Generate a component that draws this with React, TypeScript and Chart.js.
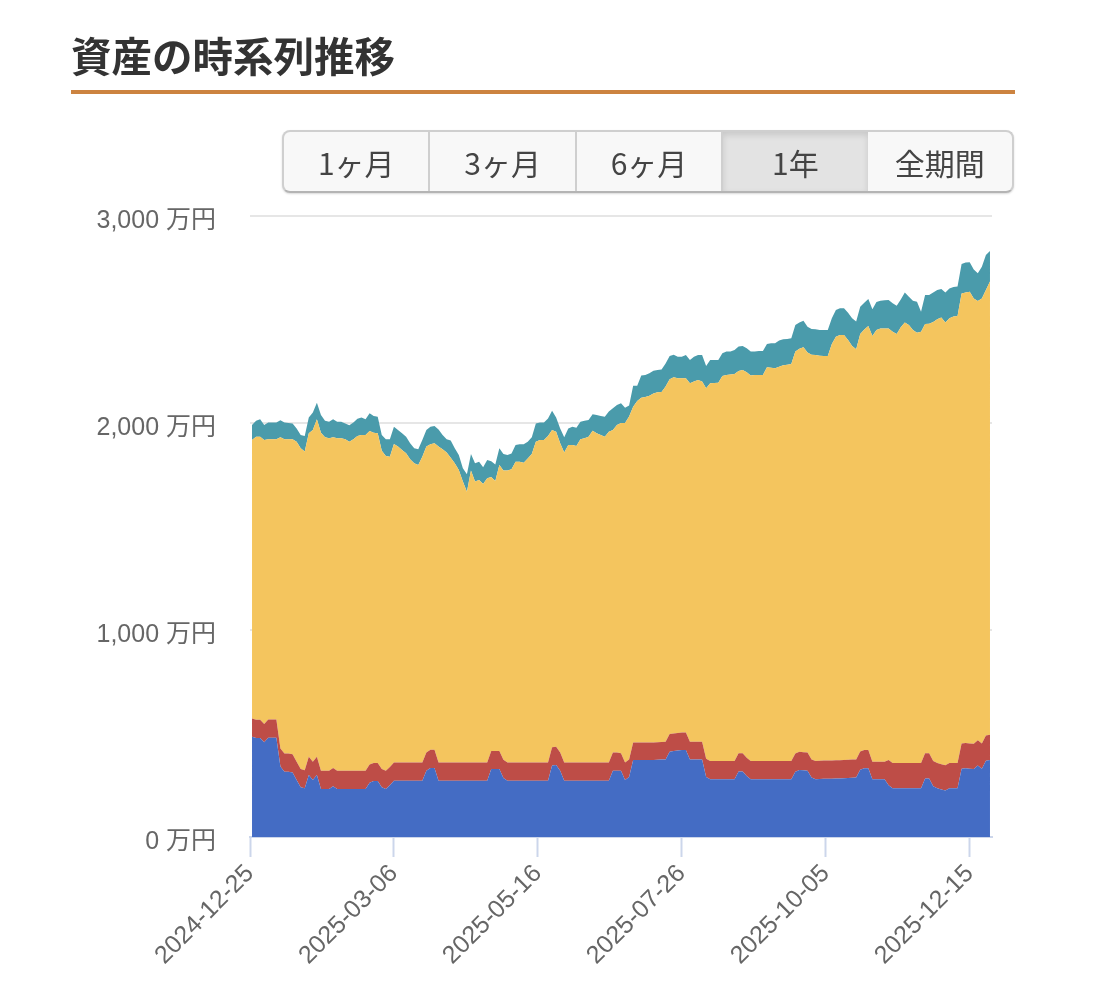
import { useEffect, useRef } from "react";
import { Chart, registerables } from "chart.js";

Chart.register(...registerables);

const rangeLabels = ["1ヶ月", "3ヶ月", "6ヶ月", "1年", "全期間"];
const activeRange = "1年";

// x axis: days since 2024-12-25, ticks every 71 days
const tickDays = [0, 71, 142, 213, 284, 355];
const tickLabels = [
  "2024-12-25",
  "2025-03-06",
  "2025-05-16",
  "2025-07-26",
  "2025-10-05",
  "2025-12-15",
];
const yTicks = [0, 1000, 2000, 3000];

// values in 万円, every second day
const blue = [
  484, 478, 478, 458, 480, 480, 480, 340, 315, 315,
  312, 275, 240, 235, 300, 275, 300, 232, 232, 232,
  245, 232, 232, 232, 232, 232, 232, 232, 232, 262,
  270, 270, 240, 232, 250, 272, 272, 272, 272, 272,
  272, 272, 272, 320, 333, 333, 272, 272, 272, 272,
  272, 272, 272, 272, 272, 272, 272, 272, 272, 328,
  328, 328, 285, 272, 272, 272, 272, 272, 272, 272,
  272, 272, 272, 272, 345, 348, 320, 272, 272, 272,
  272, 272, 272, 272, 272, 272, 272, 272, 272, 320,
  320, 320, 275, 290, 372, 372, 372, 372, 372, 372,
  373, 374, 375, 412, 415, 418, 420, 420, 375, 375,
  375, 375, 290, 279, 279, 279, 279, 279, 279, 279,
  317, 317, 295, 279, 279, 279, 279, 279, 279, 279,
  279, 279, 279, 279, 315, 324, 322, 320, 287, 279,
  280, 281, 281, 282, 283, 283, 284, 285, 286, 287,
  325, 332, 332, 279, 279, 279, 279, 250, 235, 235,
  235, 235, 235, 235, 235, 235, 283, 283, 245, 235,
  230, 225, 235, 235, 235, 330, 332, 330, 328, 345,
  330, 368, 372,
];
const red = [
  89, 89, 88, 88, 88, 88, 88, 88, 88, 88,
  88, 88, 88, 88, 88, 88, 88, 88, 88, 88,
  88, 88, 88, 88, 88, 88, 88, 88, 88, 88,
  88, 88, 88, 88, 88, 88, 88, 88, 88, 88,
  88, 88, 88, 88, 88, 88, 88, 88, 88, 88,
  88, 88, 88, 88, 88, 88, 88, 88, 88, 88,
  88, 88, 88, 88, 88, 88, 88, 88, 88, 88,
  88, 88, 88, 88, 88, 88, 88, 88, 88, 88,
  88, 88, 88, 88, 88, 88, 88, 88, 88, 88,
  88, 85, 85, 85, 85, 85, 85, 85, 85, 85,
  85, 85, 85, 85, 85, 85, 85, 85, 85, 85,
  85, 85, 88, 88, 88, 88, 88, 88, 88, 88,
  88, 88, 88, 88, 88, 88, 88, 88, 88, 88,
  88, 88, 88, 88, 88, 88, 88, 88, 88, 88,
  88, 88, 88, 88, 88, 88, 88, 88, 88, 88,
  88, 88, 88, 84, 84, 84, 84, 122, 122, 122,
  122, 122, 122, 122, 122, 122, 122, 122, 122, 122,
  122, 122, 122, 122, 122, 122, 122, 122, 122, 122,
  122, 122, 122,
];
const yellow = [
  1345, 1367, 1368, 1372, 1353, 1353, 1353, 1503, 1518, 1518,
  1521, 1547, 1550, 1539, 1562, 1603, 1630, 1633, 1611, 1606,
  1598, 1606, 1606, 1601, 1590, 1601, 1617, 1622, 1622, 1611,
  1595, 1592, 1538, 1521, 1499, 1539, 1526, 1510, 1494, 1465,
  1445, 1437, 1477, 1478, 1476, 1481, 1526, 1513, 1497, 1472,
  1445, 1413, 1357, 1308, 1410, 1357, 1365, 1345, 1373, 1323,
  1304, 1381, 1397, 1410, 1416, 1453, 1453, 1448, 1469, 1490,
  1550, 1558, 1558, 1577, 1533, 1522, 1494, 1497, 1534, 1534,
  1529, 1561, 1566, 1574, 1603, 1590, 1582, 1574, 1598, 1558,
  1582, 1595, 1640, 1656, 1622, 1649, 1665, 1669, 1675, 1686,
  1690, 1691, 1716, 1714, 1721, 1713, 1711, 1711, 1732, 1740,
  1748, 1740, 1790, 1825, 1826, 1828, 1860, 1865, 1867, 1870,
  1846, 1851, 1862, 1863, 1865, 1865, 1865, 1902, 1900, 1897,
  1905, 1912, 1915, 1918, 1942, 1947, 1956, 1932, 1955, 1962,
  1957, 1955, 1955, 2012, 2046, 2054, 2053, 2028, 1998, 1981,
  2017, 2032, 2049, 2057, 2086, 2093, 2094, 2085, 2084, 2073,
  2105, 2129, 2116, 2092, 2079, 2084, 2073, 2075, 2121, 2144,
  2158, 2139, 2149, 2157, 2160, 2174, 2177, 2182, 2152, 2122,
  2150, 2152, 2189,
];
const teal = [
  72, 77, 84, 72, 81, 81, 81, 82, 81, 79,
  77, 64, 64, 75, 77, 85, 80, 86, 80, 80,
  87, 80, 80, 77, 79, 81, 84, 84, 76, 86,
  81, 80, 76, 80, 84, 83, 80, 80, 80, 77,
  73, 76, 81, 80, 85, 83, 83, 69, 64, 83,
  73, 72, 64, 84, 80, 88, 88, 81, 88, 76,
  80, 81, 80, 75, 77, 81, 84, 89, 81, 81,
  88, 85, 84, 85, 93, 69, 72, 74, 80, 88,
  88, 85, 85, 80, 79, 89, 92, 96, 97, 105,
  97, 95, 74, 53, 101, 74, 107, 106, 108, 110,
  108, 108, 112, 113, 109, 104, 104, 112, 112, 120,
  120, 128, 107, 112, 111, 109, 110, 114, 111, 116,
  118, 116, 116, 115, 114, 116, 116, 113, 118, 121,
  126, 125, 124, 124, 128, 127, 128, 125, 124, 124,
  124, 125, 125, 124, 129, 129, 129, 132, 134, 134,
  132, 129, 130, 129, 136, 135, 136, 137, 137, 137,
  135, 144, 137, 142, 150, 97, 140, 138, 142, 141,
  137, 144, 144, 143, 142, 142, 144, 142, 140, 134,
  153, 170, 148,
];

const labelFont = '"Liberation Sans", "Noto Sans CJK JP", sans-serif';
const jpFont = '"Noto Sans CJK JP", sans-serif';

const toPoints = (values: number[]) =>
  values.map((y, i) => ({ x: 1 + i * 2, y }));

function AssetChart() {
  const chartRef = useRef<HTMLCanvasElement>(null);

  useEffect(() => {
    if (!chartRef.current) return;

    const chart = new Chart(chartRef.current, {
      type: "line",
      data: {
        datasets: [
          { label: "blue", data: toPoints(blue), backgroundColor: "#446cc4", fill: "origin" },
          { label: "red", data: toPoints(red), backgroundColor: "#be4d47", fill: "-1" },
          { label: "yellow", data: toPoints(yellow), backgroundColor: "#f4c55e", fill: "-1" },
          { label: "teal", data: toPoints(teal), backgroundColor: "#4a9bab", fill: "-1" },
        ],
      },
      options: {
        responsive: false,
        animation: false,
        layout: {
          autoPadding: false,
          padding: { top: 216, right: 110 },
        },
        elements: {
          point: { radius: 0 },
          line: { borderWidth: 0, tension: 0 },
        },
        plugins: {
          legend: { display: false },
          title: { display: false },
          tooltip: { enabled: false },
        },
        scales: {
          x: {
            type: "linear",
            min: 0,
            max: 366,
            afterBuildTicks: (axis) => {
              axis.ticks = tickDays.map((value) => ({ value }));
            },
            afterFit: (axis) => {
              axis.height = 153;
            },
            border: { color: "#ccd6eb", width: 2 },
            grid: {
              drawOnChartArea: false,
              drawTicks: true,
              tickLength: 20,
              tickColor: "#ccd6eb",
              tickWidth: 2,
            },
            ticks: {
              color: "#666666",
              font: { family: labelFont, size: 25 },
              minRotation: 45,
              maxRotation: 45,
              padding: 2,
              autoSkip: false,
              callback: (_value, index) => tickLabels[index],
            },
          },
          y: {
            stacked: true,
            min: 0,
            max: 3000,
            afterBuildTicks: (axis) => {
              axis.ticks = yTicks.map((value) => ({ value }));
            },
            afterFit: (axis) => {
              axis.width = 250;
            },
            border: { display: false },
            grid: {
              color: "#e6e6e6",
              lineWidth: 2,
              drawTicks: false,
            },
            ticks: {
              color: "#666666",
              font: { family: labelFont, size: 25 },
              padding: 34,
              labelOffset: 5,
              callback: (value) => `${Number(value).toLocaleString("en-US")} 万円`,
            },
          },
        },
      },
    });

    return () => chart.destroy();
  }, []);

  return (
    <canvas
      ref={chartRef}
      width={1102}
      height={990}
      style={{ position: "absolute", left: 0, top: 0, display: "block" }}
    />
  );
}

export default function App() {
  return (
    <div style={{ position: "absolute", left: 0, top: 0, width: 1102, height: 990, overflow: "hidden", background: "#fff" }}>
      <AssetChart />
      <h2
        style={{
          position: "absolute",
          left: 71,
          top: 28,
          margin: 0,
          fontFamily: jpFont,
          fontWeight: 700,
          fontSize: 40.5,
          lineHeight: "54px",
          color: "#333",
        }}
      >
        資産の時系列推移
      </h2>
      <div style={{ position: "absolute", left: 71, top: 90, width: 944, height: 4, background: "#cc8340" }} />
      <div
        style={{
          position: "absolute",
          left: 282,
          top: 130,
          width: 732,
          height: 63,
          display: "flex",
          boxSizing: "border-box",
          border: "2px solid #cfcfcf",
          borderBottomColor: "#b4b4b4",
          borderRadius: 8,
          overflow: "hidden",
          background: "#f8f8f8",
          boxShadow: "0 1px 2px rgba(0,0,0,0.15)",
        }}
      >
        {rangeLabels.map((label, i) => (
          <div
            key={label}
            style={{
              flex: 1,
              display: "flex",
              alignItems: "center",
              justifyContent: "center",
              fontFamily: jpFont,
              fontSize: 30,
              color: "#444",
              borderLeft: i > 0 && i < 4 ? "2px solid #cfcfcf" : "none",
              background: label === activeRange ? "#e3e3e3" : "transparent",
              boxShadow: label === activeRange ? "inset 0 3px 6px rgba(0,0,0,0.12)" : "none",
            }}
          >
            {label}
          </div>
        ))}
      </div>
    </div>
  );
}
